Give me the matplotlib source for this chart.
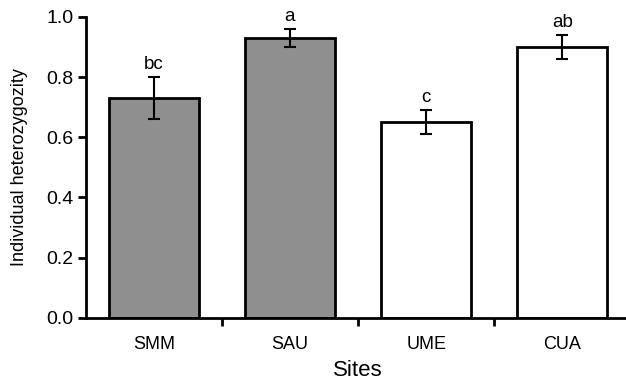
import matplotlib as mpl
import matplotlib.pyplot as plt

mpl.rcParams['font.family'] = ['Liberation Sans', 'DejaVu Sans']

sites = ["SMM", "SAU", "UME", "CUA"]
heterozygosity = [0.73, 0.93, 0.65, 0.90]
errors = [0.07, 0.03, 0.04, 0.04]
letters = ["bc", "a", "c", "ab"]
bar_colors = ['#8f8f8f', '#8f8f8f', 'white', 'white']

fig = plt.figure(figsize=(6.26, 3.82), dpi=100)
ax = fig.add_axes([0.137, 0.168, 0.87, 0.788])

x = range(len(sites))
ax.bar(x, heterozygosity, width=0.66, color=bar_colors,
       edgecolor="black", linewidth=2, zorder=2)
ax.errorbar(x, heterozygosity, yerr=errors, fmt="none", ecolor="black",
            elinewidth=1.5, capsize=4, capthick=1.5, zorder=3)

for i, (h, e, lab) in enumerate(zip(heterozygosity, errors, letters)):
    ax.annotate(lab, (i, h + e), xytext=(0, 3), textcoords="offset points",
                ha="center", va="bottom", fontsize=13.5)

ax.set_xlim(-0.5, 3.5)
ax.set_ylim(0, 1.0)
ax.set_yticks([0.0, 0.2, 0.4, 0.6, 0.8, 1.0])
ax.set_yticklabels([f"{v:.1f}" for v in [0.0, 0.2, 0.4, 0.6, 0.8, 1.0]])

# category labels centred, ticks at the boundaries
ax.set_xticks([0.5, 1.5, 2.5])
ax.set_xticklabels([])
ax.set_xticks(list(x), minor=True)
ax.set_xticklabels(sites, minor=True)
ax.tick_params(axis="x", which="minor", length=0, pad=13, labelsize=13)
ax.tick_params(axis="x", which="major", length=6, width=2, direction="out")
ax.tick_params(axis="y", length=6, width=2, direction="out", labelsize=14, pad=3)

for side in ["top", "right"]:
    ax.spines[side].set_visible(False)
for side in ["left", "bottom"]:
    ax.spines[side].set_linewidth(2)

ax.set_xlabel("Sites", fontsize=16, labelpad=5)
ax.set_ylabel("Individual heterozygozity", fontsize=13, labelpad=13)

plt.savefig("out.png", dpi=100)
